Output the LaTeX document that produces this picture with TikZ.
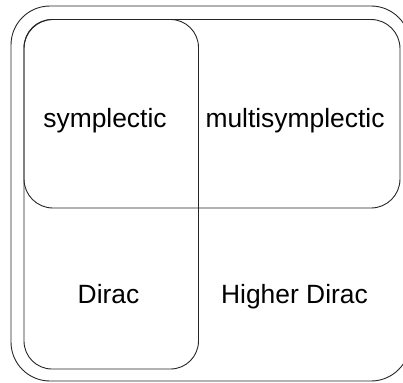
\documentclass[tikz,border=0pt]{standalone}
\usepackage{fontspec}
\setmainfont{Liberation Sans}
\begin{document}
\begin{tikzpicture}[x=1bp,y=-1bp,
  box/.style={draw=black!85,line width=0.9bp},
  lbl/.style={anchor=base,inner sep=0pt,font=\fontsize{26.4bp}{30bp}\selectfont}]
\useasboundingbox (0,0) rectangle (403,383);
\draw[box,rounded corners=39bp] (11,6) rectangle (410,381);
\draw[box,rounded corners=28bp] (24,19.5) rectangle (198.5,369);
\draw[box,rounded corners=29bp] (24,19.5) rectangle (400,208);
\node[lbl] (symp) at (105,127) {symplectic};
\node[lbl] (multi) at (295,127) {multisymplectic};
\node[lbl] (dirac) at (108.5,303) {Dirac};
\node[lbl] (hdirac) at (294.5,303) {Higher Dirac};
\end{tikzpicture}
\end{document}
